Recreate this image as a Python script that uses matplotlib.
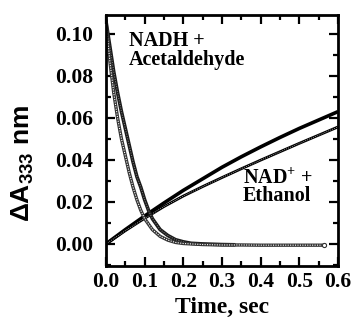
import numpy as np
import matplotlib
matplotlib.use('Agg')
import matplotlib.pyplot as plt
from matplotlib.ticker import MultipleLocator

plt.rcParams['font.family'] = ['Liberation Serif', 'DejaVu Serif']
plt.rcParams['font.weight'] = 'bold'
plt.rcParams['mathtext.fontset'] = 'custom'
plt.rcParams['mathtext.rm'] = 'Liberation Serif:bold'
plt.rcParams['mathtext.bf'] = 'Liberation Serif:bold'
plt.rcParams['mathtext.sf'] = 'Liberation Sans:bold'

# NADH + acetaldehyde, two decay traces
t_dec_a = [0, 0.01, 0.02, 0.03, 0.04, 0.05, 0.06, 0.07, 0.08, 0.09, 0.10, 0.12, 0.14,
           0.16, 0.18, 0.20, 0.25, 0.30, 0.35, 0.40, 0.45, 0.50, 0.565]
y_dec_a = [0.106, 0.087, 0.072, 0.060, 0.050, 0.042, 0.034, 0.027, 0.021, 0.016, 0.012,
           0.0068, 0.0036, 0.0018, 0.0007, 0.0002, -0.0003, -0.0005, -0.0005, -0.0006,
           -0.0006, -0.0006, -0.0006]
t_dec_b = [0, 0.01, 0.02, 0.03, 0.04, 0.05, 0.06, 0.07, 0.08, 0.09, 0.10, 0.11, 0.12,
           0.14, 0.16, 0.18, 0.20, 0.22, 0.25, 0.30, 0.33]
y_dec_b = [0.106, 0.094, 0.082, 0.072, 0.063, 0.055, 0.047, 0.039, 0.032, 0.027, 0.021,
           0.016, 0.012, 0.0068, 0.004, 0.002, 0.001, 0.0003, 0.0, -0.0003, -0.0004]

# NAD+ + ethanol, two rising traces
t_rise = [0, 0.05, 0.10, 0.15, 0.20, 0.25, 0.30, 0.35, 0.40, 0.45, 0.50, 0.55, 0.60]
y_rise_up = [0, 0.0068, 0.0133, 0.0195, 0.0255, 0.0310, 0.0365, 0.0415, 0.0462, 0.0507,
             0.0550, 0.0590, 0.0630]
y_rise_lo = [0, 0.0063, 0.0122, 0.0178, 0.0228, 0.0273, 0.0316, 0.0358, 0.0399, 0.0439,
             0.0479, 0.0518, 0.0557]

fig = plt.figure(figsize=(3.54, 3.22), dpi=100)
ax = fig.add_axes([0.2994, 0.174, 0.6554, 0.7794])

# rising traces
ax.plot(t_rise, y_rise_up, color='black', lw=2.6, solid_capstyle='butt')
ax.plot(t_rise, y_rise_lo, color='black', lw=2.0, solid_capstyle='butt')
ax.plot(t_rise, y_rise_lo, color='#bbbbbb', lw=0.6, ls=(0, (1, 1.5)))

# decay traces (hollow circle look)
ax.plot(t_dec_b, y_dec_b, color='#1a1a1a', lw=2.6)
ax.plot(t_dec_b, y_dec_b, color='#888888', lw=0.7, ls=(0, (1, 1.5)))
ax.plot(t_dec_a, y_dec_a, color='#333333', lw=2.4)
ax.plot(t_dec_a, y_dec_a, color='white', lw=0.8, ls=(0, (1, 1.2)))
ax.plot([t_dec_a[-1]], [y_dec_a[-1]], 'o', ms=3, mfc='white', mec='#333333', mew=0.8)

ax.text(0.06, 0.0852, 'NADH +\nAcetaldehyde', fontsize=14.5, fontweight='bold',
        va='baseline', linespacing=0.95)
ax.text(0.354, 0.0203, 'NAD$^{+}$ +\nEthanol', fontsize=14.5, fontweight='bold',
        va='baseline', linespacing=0.85)

ax.set_xlim(0, 0.6)
ax.set_ylim(-0.0105, 0.109)
ax.xaxis.set_minor_locator(MultipleLocator(0.05))
ax.yaxis.set_minor_locator(MultipleLocator(0.01))
ax.set_xticks(np.arange(0, 0.61, 0.1))
ax.set_xticklabels(['%.1f' % v for v in np.arange(0, 0.61, 0.1)])
ax.set_yticks(np.arange(0, 0.101, 0.02))
ax.set_yticklabels(['%.2f' % v for v in np.arange(0, 0.101, 0.02)])

ax.tick_params(which='both', direction='in', top=True, right=True, width=1.6)
ax.tick_params(which='major', length=6.5, labelsize=15.5)
ax.tick_params(axis='y', which='major', pad=9)
ax.tick_params(axis='x', which='major', pad=4)
ax.tick_params(which='minor', length=3.6)
for sp in ax.spines.values():
    sp.set_linewidth(2.0)

ax.set_xlabel('Time, sec', fontsize=17, fontweight='bold', labelpad=4)
ax.set_ylabel(r'$\mathsf{\Delta A_{333}}$' + ' nm', fontsize=19, fontweight='bold',
              family='Liberation Sans')
ax.yaxis.set_label_coords(-0.30, 0.41)

fig.savefig('out.png', dpi=100)
